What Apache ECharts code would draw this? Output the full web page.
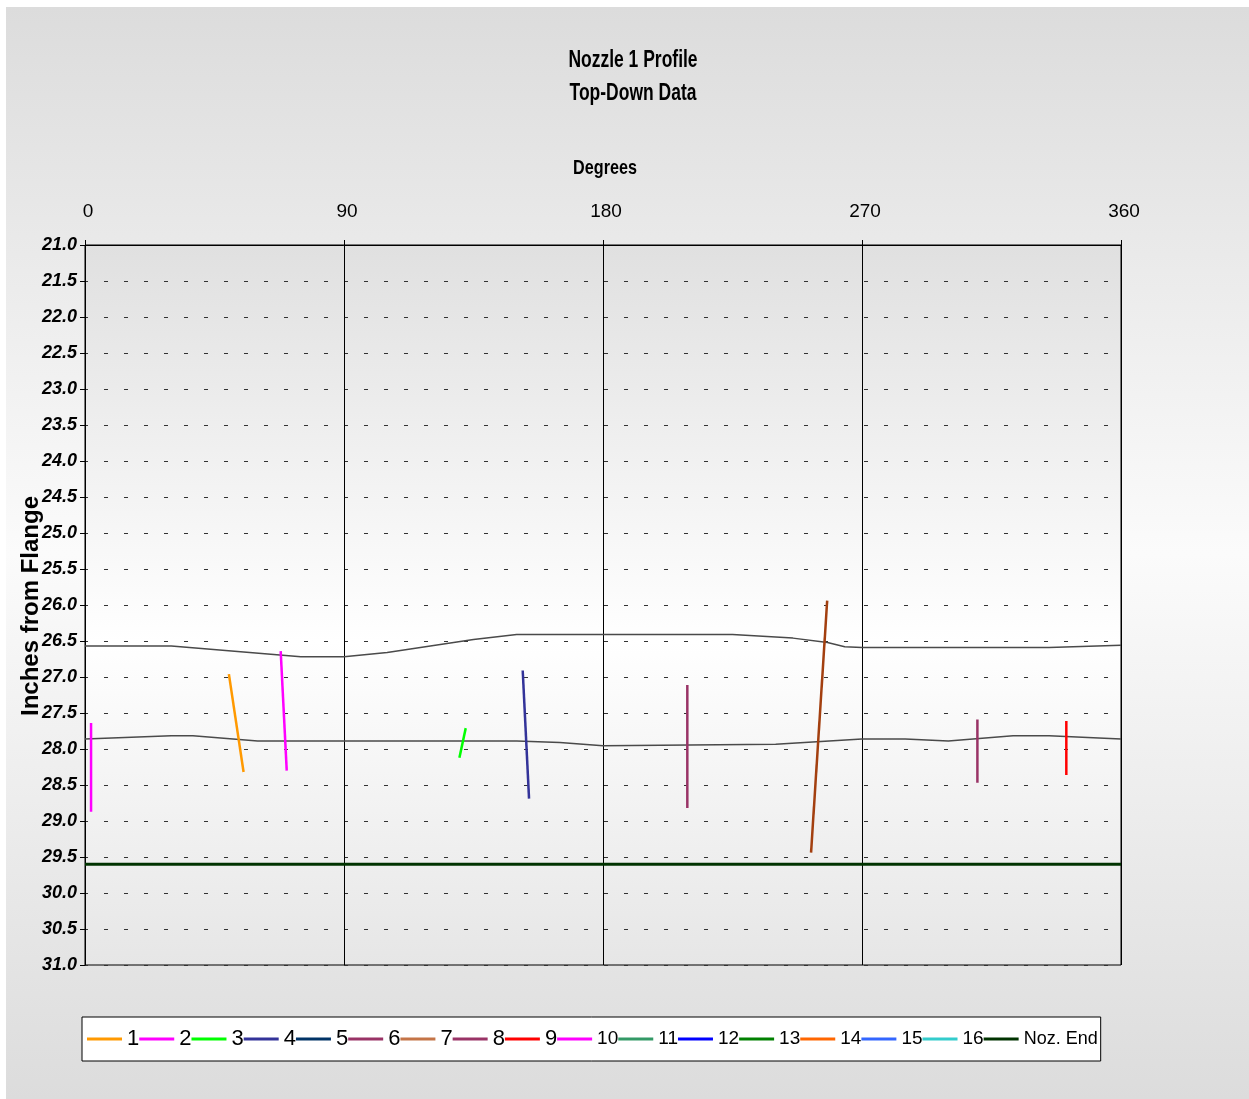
<!DOCTYPE html>
<html>
<head>
<meta charset="utf-8">
<script src="https://cdn.jsdelivr.net/npm/echarts@6/dist/echarts.min.js"></script>
<style>
html,body{margin:0;padding:0;background:#fff;}
#chart{width:1249px;height:1099px;}
</style>
</head>
<body>
<div id="chart"></div>
<script>
// ---- data ----
const xTicks = [0, 90, 180, 270, 360];
const yMin = 21.0, yMax = 31.0, yStep = 0.5;

// upper / lower profile boundaries (degrees, inches)
const upperDeg = [0, 30, 75, 90, 105, 120, 135, 150, 225, 246, 258, 264, 270, 335, 360];
const upperIn  = [26.57, 26.57, 26.72, 26.72, 26.66, 26.57, 26.48, 26.41, 26.41, 26.46, 26.52, 26.58, 26.59, 26.59, 26.56];
const lowerDeg = [0, 30, 37.5, 60, 150, 165, 180, 240, 270, 285, 300, 322.5, 335, 360];
const lowerIn  = [27.86, 27.815, 27.815, 27.89, 27.89, 27.91, 27.955, 27.935, 27.86, 27.86, 27.89, 27.815, 27.815, 27.86];

// measurement segments: [degrees, inches] start / end
const s1  = [[50.0, 26.96], [55.1, 28.32]];
const s2  = [[68.0, 26.64], [70.1, 28.30]];
const s3  = [[132.3, 27.71], [130.1, 28.12]];
const s4  = [[152.1, 26.91], [154.3, 28.69]];
const s5  = [];
const s6  = [[209.3, 27.11], [209.3, 28.82]];
const s7  = [[257.9, 25.94], [252.3, 29.44]];
const s8  = [[310.1, 27.59], [310.1, 28.47]];
const s9  = [[341.0, 27.61], [341.0, 28.36]];
const s10 = [[2.1, 27.64], [2.1, 28.87]];
const s11 = [], s12 = [], s13 = [], s14 = [], s15 = [], s16 = [];
const nozEndIn = 29.6;

const segNames = ['1','2','3','4','5','6','7','8','9','10','11','12','13','14','15','16'];
const segData = [s1,s2,s3,s4,s5,s6,s7,s8,s9,s10,s11,s12,s13,s14,s15,s16];
const segColors = ['#FF9900','#FF00FF','#00FF00','#333399','#003366','#993366','#A33F0F','#993366',
                   '#FF0000','#FF00FF','#339966','#0000FF','#008000','#FF6600','#3366FF','#33CCCC'];
const legendColorOverride = {'7': '#C47447'};

const SANS = "'Liberation Sans',Arial,sans-serif";

const chart = echarts.init(document.getElementById('chart'), null, {renderer: 'canvas'});

const series = [];
series.push({
  name: 'upper', type: 'line', data: upperDeg.map((d, i) => [d, upperIn[i]]),
  symbol: 'none', silent: true, z: 2,
  lineStyle: {color: '#4a4a4a', width: 1.5}
});
series.push({
  name: 'lower', type: 'line', data: lowerDeg.map((d, i) => [d, lowerIn[i]]),
  symbol: 'none', silent: true, z: 2,
  lineStyle: {color: '#4a4a4a', width: 1.5}
});
segNames.forEach((n, i) => {
  series.push({
    name: n, type: 'line', data: segData[i], symbol: 'none', z: 4,
    itemStyle: {color: segColors[i]},
    lineStyle: {color: segColors[i], width: 2.5}
  });
});
series.push({
  name: 'Noz. End', type: 'line', data: [[xTicks[0], nozEndIn], [xTicks[xTicks.length - 1], nozEndIn]],
  symbol: 'none', z: 3,
  itemStyle: {color: '#003300'},
  lineStyle: {color: '#003300', width: 3}
});

const legendNames = segNames.concat(['Noz. End']);

function label(text, x, y, size, scaleX, extra) {
  return Object.assign({
    type: 'text', x: x, y: y, scaleX: scaleX, silent: true,
    style: {text: text, fill: '#000', align: 'center', verticalAlign: 'middle',
            font: 'bold ' + size + 'px ' + SANS}
  }, extra || {});
}

const option = {
  backgroundColor: '#ffffff',
  animation: false,
  graphic: [
    {
      type: 'rect', z: -10, silent: true,
      shape: {x: 6, y: 7, width: 1243, height: 1092},
      style: {fill: new echarts.graphic.LinearGradient(0, 0, 0, 1, [
        {offset: 0, color: '#dcdcdc'},
        {offset: 0.5, color: '#fbfbfb'},
        {offset: 1, color: '#dcdcdc'}
      ])}
    },
    label('Nozzle 1 Profile', 633, 61, 23, 0.76),
    label('Top-Down Data', 633, 94, 23, 0.76),
    label('Degrees', 605, 168, 21, 0.77),
    label('Inches from Flange', 31, 606, 24, 1, {rotation: Math.PI / 2})
  ],
  grid: {
    left: 85, top: 245, right: 128, bottom: 134,
    show: true, borderColor: '#000', borderWidth: 1,
    backgroundColor: new echarts.graphic.LinearGradient(0, 0, 0, 1, [
      {offset: 0, color: '#e0e0e0'},
      {offset: 0.55, color: '#ffffff'},
      {offset: 1, color: '#e6e6e6'}
    ])
  },
  legend: {
    data: legendNames.map(n => legendColorOverride[n]
      ? {name: n, itemStyle: {color: legendColorOverride[n]}}
      : n),
    left: 82, top: 1017,
    orient: 'horizontal',
    icon: 'rect',
    itemWidth: 35, itemHeight: 3, itemGap: 0,
    padding: [11, 3, 11, 5],
    backgroundColor: '#ffffff', borderColor: '#000', borderWidth: 1,
    selectedMode: false,
    formatter: n => n.length > 2 ? '{e|' + n + '}' : (n.length > 1 ? '{d|' + n + '}' : n),
    textStyle: {
      fontSize: 22, fontFamily: SANS, color: '#000',
      rich: {
        d: {fontSize: 19, fontFamily: SANS, color: '#000'},
        e: {fontSize: 18, fontFamily: SANS, color: '#000'}
      }
    }
  },
  xAxis: {
    type: 'value', position: 'top', min: xTicks[0], max: xTicks[xTicks.length - 1], interval: 90,
    axisLine: {show: true, lineStyle: {color: '#000', width: 1}},
    axisTick: {show: true, length: 5, lineStyle: {color: '#000'}},
    axisLabel: {fontFamily: SANS, fontSize: 19, color: '#000', margin: 24, padding: [0, 0, 0, 6]},
    splitLine: {show: true, lineStyle: {color: '#000', width: 1}}
  },
  yAxis: {
    type: 'value', inverse: true, min: yMin, max: yMax, interval: yStep,
    axisLine: {show: true, lineStyle: {color: '#000', width: 1}},
    axisTick: {show: true, length: 5, lineStyle: {color: '#000'}},
    axisLabel: {fontFamily: SANS, fontWeight: 'bold', fontStyle: 'italic', fontSize: 18, color: '#000',
                margin: 8, formatter: v => v.toFixed(1)},
    splitLine: {show: true, lineStyle: {color: '#333', width: 1, type: [4, 16], dashOffset: 1}}
  },
  series: series
};
chart.setOption(option);
</script>
</body>
</html>
